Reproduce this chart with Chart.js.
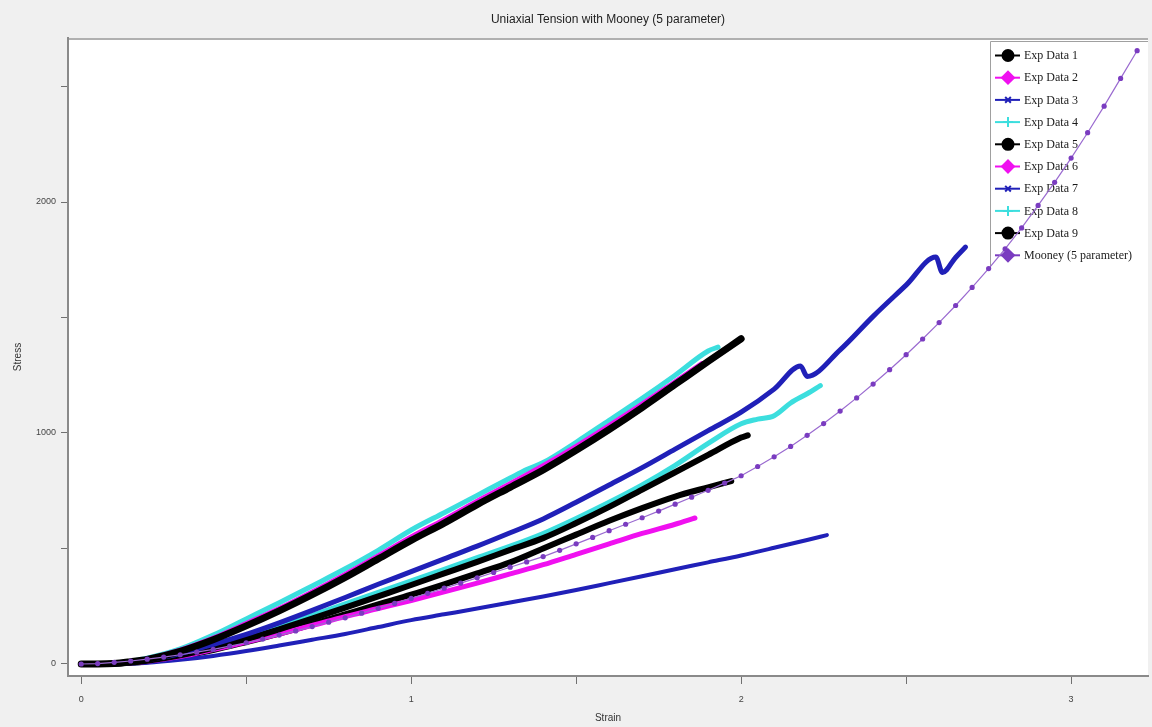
<!DOCTYPE html>
<html>
<head>
<meta charset="utf-8">
<title>Uniaxial Tension with Mooney (5 parameter)</title>
<script src="https://cdn.jsdelivr.net/npm/chart.js@4.4.1/dist/chart.umd.min.js"></script>
<style>
  html, body { margin: 0; padding: 0; background: #f0f0f0; }
  #chart { display: block; }
</style>
</head>
<body>
<canvas id="chart" width="1152" height="727"></canvas>
<script>
const TITLE = "Uniaxial Tension with Mooney (5 parameter)";
const X_TICKS = [0, 0.5, 1, 1.5, 2, 2.5, 3];
const Y_TICKS = [0, 500, 1000, 1500, 2000, 2500];

// Exp Data 1 (upper black)
const exp1Strain = [0, 0.05, 0.1, 0.15, 0.2, 0.3, 0.4, 0.5, 0.6, 0.7, 0.8, 0.9, 1.0, 1.1, 1.2, 1.3, 1.4, 1.5, 1.6, 1.7, 1.8, 1.9, 2.0];
const exp1Stress = [0, 0, 2, 10, 20, 55, 105, 165, 230, 300, 375, 455, 535, 610, 690, 765, 840, 925, 1015, 1110, 1210, 1310, 1408];

// Exp Data 2 (upper magenta, mostly under Exp 1)
const exp2Strain = [0, 0.05, 0.1, 0.15, 0.2, 0.3, 0.4, 0.5, 0.6, 0.7, 0.8, 0.9, 1.0, 1.1, 1.2, 1.3, 1.4, 1.5, 1.6, 1.7, 1.8, 1.88];
const exp2Stress = [0, 0, 2, 11, 22, 60, 112, 175, 240, 312, 388, 468, 550, 625, 705, 780, 858, 942, 1032, 1125, 1222, 1300];

// Exp Data 3 (long blue)
const exp3Strain = [0, 0.05, 0.1, 0.15, 0.2, 0.3, 0.4, 0.5, 0.6, 0.7, 0.8, 0.9, 1.0, 1.1, 1.2, 1.3, 1.4, 1.5, 1.6, 1.7, 1.8, 1.9, 2.0, 2.1, 2.18, 2.2, 2.3, 2.4, 2.5, 2.59, 2.61, 2.65, 2.68];
const exp3Stress = [0, 0, 1, 8, 18, 45, 85, 128, 178, 232, 288, 345, 400, 455, 510, 568, 628, 700, 775, 850, 930, 1010, 1090, 1190, 1290, 1245, 1360, 1505, 1640, 1762, 1695, 1760, 1805];

// Exp Data 4 (upper cyan)
const exp4Strain = [0, 0.05, 0.1, 0.15, 0.2, 0.3, 0.4, 0.5, 0.6, 0.7, 0.8, 0.9, 1.0, 1.1, 1.2, 1.3, 1.35, 1.4, 1.5, 1.6, 1.7, 1.8, 1.9, 1.93];
const exp4Stress = [0, 0, 3, 12, 25, 65, 125, 195, 265, 338, 412, 492, 580, 655, 730, 805, 842, 872, 960, 1055, 1150, 1250, 1355, 1372];

// Exp Data 5 (middle black)
const exp5Strain = [0, 0.05, 0.1, 0.15, 0.2, 0.3, 0.4, 0.5, 0.6, 0.7, 0.8, 0.9, 1.0, 1.1, 1.2, 1.3, 1.4, 1.5, 1.6, 1.7, 1.8, 1.9, 2.0, 2.02];
const exp5Stress = [0, 0, 1, 6, 14, 38, 70, 108, 150, 196, 244, 293, 342, 392, 442, 494, 545, 610, 680, 755, 830, 905, 980, 990];

// Exp Data 6 (lower magenta)
const exp6Strain = [0, 0.05, 0.1, 0.15, 0.2, 0.3, 0.4, 0.5, 0.6, 0.7, 0.8, 0.9, 1.0, 1.1, 1.2, 1.3, 1.4, 1.5, 1.6, 1.7, 1.8, 1.86];
const exp6Stress = [0, 0, 1, 5, 12, 32, 62, 95, 130, 167, 205, 240, 275, 312, 350, 390, 430, 475, 520, 565, 605, 632];

// Exp Data 7 (lower blue)
const exp7Strain = [0, 0.05, 0.1, 0.15, 0.2, 0.3, 0.4, 0.5, 0.6, 0.7, 0.8, 0.9, 1.0, 1.1, 1.2, 1.3, 1.4, 1.5, 1.6, 1.7, 1.8, 1.9, 2.0, 2.1, 2.2, 2.26];
const exp7Stress = [0, 0, 0, 2, 5, 18, 35, 56, 80, 105, 130, 160, 190, 215, 240, 266, 292, 320, 350, 380, 410, 440, 470, 503, 537, 558];

// Exp Data 8 (middle cyan)
const exp8Strain = [0, 0.05, 0.1, 0.15, 0.2, 0.3, 0.4, 0.5, 0.6, 0.7, 0.8, 0.9, 1.0, 1.1, 1.2, 1.3, 1.4, 1.5, 1.6, 1.7, 1.8, 1.9, 2.0, 2.05, 2.1, 2.15, 2.2, 2.24];
const exp8Stress = [0, 0, 1, 7, 15, 40, 75, 115, 160, 210, 260, 310, 360, 410, 460, 510, 565, 630, 700, 775, 860, 955, 1040, 1060, 1075, 1130, 1170, 1205];

// Exp Data 9 (lower black)
const exp9Strain = [0, 0.05, 0.1, 0.15, 0.2, 0.3, 0.4, 0.5, 0.6, 0.7, 0.8, 0.9, 1.0, 1.1, 1.2, 1.3, 1.4, 1.5, 1.6, 1.7, 1.8, 1.9, 1.97];
const exp9Stress = [0, 0, 1, 5, 12, 32, 60, 95, 132, 172, 215, 258, 300, 345, 392, 440, 500, 560, 620, 675, 725, 765, 792];

// Mooney (5 parameter) fit
const mooneyStrain = [0, 0.05, 0.1, 0.15, 0.2, 0.25, 0.3, 0.35, 0.4, 0.45, 0.5, 0.55, 0.6, 0.65, 0.7, 0.75, 0.8, 0.85, 0.9, 0.95,
  1.0, 1.05, 1.1, 1.15, 1.2, 1.25, 1.3, 1.35, 1.4, 1.45, 1.5, 1.55, 1.6, 1.65, 1.7, 1.75, 1.8, 1.85, 1.9, 1.95,
  2.0, 2.05, 2.1, 2.15, 2.2, 2.25, 2.3, 2.35, 2.4, 2.45, 2.5, 2.55, 2.6, 2.65, 2.7, 2.75, 2.8, 2.85, 2.9, 2.95,
  3.0, 3.05, 3.1, 3.15, 3.2];
const mooneyStress = [0, 2, 7, 13, 21, 30, 40, 51, 63, 77, 92, 108, 125, 143, 162, 181, 200, 220, 241, 262,
  284, 306, 328, 350, 373, 396, 419, 442, 465, 492, 520, 548, 577, 605, 633, 662, 692, 722, 752, 783,
  815, 855, 897, 942, 990, 1041, 1095, 1152, 1212, 1274, 1339, 1407, 1478, 1552, 1630, 1712, 1797, 1888, 1985, 2085,
  2190, 2300, 2415, 2535, 2655];

const BLACK = "#000000";
const MAGENTA = "#f010f0";
const BLUE = "#2020b8";
const CYAN = "#3cdede";
const PURPLE = "#7a3cc0";

function toPoints(strain, stress) {
  return strain.map((s, i) => ({ x: s, y: stress[i] }));
}

function expSeries(label, strain, stress, color, width, marker, markerSize) {
  return {
    label,
    data: toPoints(strain, stress),
    borderColor: color,
    backgroundColor: color,
    borderWidth: width,
    pointRadius: 0,
    cubicInterpolationMode: "monotone",
    borderJoinStyle: "round",
    borderCapStyle: "round",
    legendMarker: marker,
    legendSize: markerSize,
  };
}

const datasets = [
  expSeries("Exp Data 1", exp1Strain, exp1Stress, BLACK, 7, "circle", 5.5),
  expSeries("Exp Data 2", exp2Strain, exp2Stress, MAGENTA, 5, "rectRot", 6),
  expSeries("Exp Data 3", exp3Strain, exp3Stress, BLUE, 5, "crossRot", 4),
  expSeries("Exp Data 4", exp4Strain, exp4Stress, CYAN, 5, "cross", 5),
  expSeries("Exp Data 5", exp5Strain, exp5Stress, BLACK, 6, "circle", 5.5),
  expSeries("Exp Data 6", exp6Strain, exp6Stress, MAGENTA, 5, "rectRot", 6),
  expSeries("Exp Data 7", exp7Strain, exp7Stress, BLUE, 4, "crossRot", 4),
  expSeries("Exp Data 8", exp8Strain, exp8Stress, CYAN, 5, "cross", 5),
  expSeries("Exp Data 9", exp9Strain, exp9Stress, BLACK, 6, "circle", 5.5),
  {
    label: "Mooney (5 parameter)",
    data: toPoints(mooneyStrain, mooneyStress),
    borderColor: "#9a6ad0",
    backgroundColor: PURPLE,
    borderWidth: 1.2,
    pointRadius: 2.6,
    pointBorderWidth: 0,
    pointStyle: "circle",
    tension: 0,
    order: -1,
    legendMarker: "rectRot",
    legendSize: 6,
    legendColor: PURPLE,
  },
];

// white plot box on a grey page
const plotBackground = {
  id: "plotBackground",
  beforeDraw(chart) {
    const { ctx, chartArea: a } = chart;
    ctx.save();
    ctx.fillStyle = "#f0f0f0";
    ctx.fillRect(0, 0, chart.width, chart.height);
    ctx.fillStyle = "#ffffff";
    ctx.fillRect(a.left, a.top, a.right - a.left, a.bottom - a.top);
    ctx.strokeStyle = "#b0b0b0";
    ctx.lineWidth = 2;
    ctx.beginPath();
    ctx.moveTo(a.left, a.top + 1);
    ctx.lineTo(a.right, a.top + 1);
    ctx.stroke();
    ctx.restore();
  },
};

// legend box in the top right corner, drawn under the curves
const boxLegend = {
  id: "boxLegend",
  beforeDatasetsDraw(chart) {
    const { ctx, chartArea: a } = chart;
    const left = 990, top = a.top + 3, bottom = 270;
    ctx.save();
    ctx.fillStyle = "#ffffff";
    ctx.fillRect(left, top, a.right - left, bottom - top);
    ctx.strokeStyle = "#a0a0a0";
    ctx.lineWidth = 1;
    ctx.beginPath();
    ctx.moveTo(left + 0.5, bottom);
    ctx.lineTo(left + 0.5, top + 0.5);
    ctx.lineTo(a.right, top + 0.5);
    ctx.stroke();
    ctx.font = "12px 'Liberation Serif', 'Times New Roman', serif";
    ctx.textBaseline = "middle";
    chart.data.datasets.forEach((ds, i) => {
      const y = 55.5 + i * 22.2;
      const color = ds.legendColor || ds.borderColor;
      ctx.strokeStyle = color;
      ctx.fillStyle = color;
      ctx.lineWidth = 2;
      ctx.beginPath();
      ctx.moveTo(995, y);
      ctx.lineTo(1020, y);
      ctx.stroke();
      Chart.helpers.drawPoint(ctx, { pointStyle: ds.legendMarker, radius: ds.legendSize, borderWidth: 2, rotation: 0 }, 1008, y);
      ctx.fillStyle = "#1a1a1a";
      ctx.fillText(ds.label, 1024, y + 0.5);
    });
    ctx.restore();
  },
};

new Chart(document.getElementById("chart"), {
  type: "line",
  data: { datasets },
  plugins: [plotBackground, boxLegend],
  options: {
    responsive: false,
    animation: false,
    devicePixelRatio: 1,
    layout: { padding: { left: 0, right: 4, top: 0, bottom: 0 } },
    plugins: {
      legend: { display: false },
      tooltip: { enabled: false },
      title: {
        display: true,
        text: TITLE,
        fullSize: false,
        color: "#222222",
        font: { family: "'Liberation Sans', Arial, sans-serif", size: 12, weight: "normal" },
        padding: { top: 12, bottom: 11.6 },
      },
    },
    scales: {
      x: {
        type: "linear",
        min: -0.04,
        max: 3.233,
        afterBuildTicks: (s) => { s.ticks = X_TICKS.map((v) => ({ value: v })); },
        afterFit: (s) => { s.height = 51; },
        ticks: {
          callback: (v) => (Number.isInteger(v) ? String(v) : ""),
          font: { family: "'Liberation Sans', Arial, sans-serif", size: 9 },
          color: "#444444",
          padding: 10,
          maxRotation: 0,
          autoSkip: false,
        },
        grid: { drawOnChartArea: false, tickLength: 8, color: "#707070" },
        border: { color: "#8a8a8a", width: 2 },
        title: {
          display: true,
          text: "Strain",
          color: "#333333",
          font: { family: "'Liberation Sans', Arial, sans-serif", size: 10 },
          padding: { top: 0, bottom: 3 },
        },
      },
      y: {
        type: "linear",
        min: -52,
        max: 2710,
        afterBuildTicks: (s) => { s.ticks = Y_TICKS.map((v) => ({ value: v })); },
        afterFit: (s) => { s.width = 68; },
        ticks: {
          callback: (v) => (v % 1000 === 0 ? String(v) : ""),
          font: { family: "'Liberation Sans', Arial, sans-serif", size: 9 },
          color: "#444444",
          padding: 5,
          autoSkip: false,
        },
        grid: { drawOnChartArea: false, tickLength: 7, color: "#707070" },
        border: { color: "#8a8a8a", width: 2 },
        title: {
          display: true,
          text: "Stress",
          color: "#333333",
          font: { family: "'Liberation Sans', Arial, sans-serif", size: 10 },
          padding: { top: 12, bottom: 0 },
        },
      },
    },
  },
});
</script>
</body>
</html>
